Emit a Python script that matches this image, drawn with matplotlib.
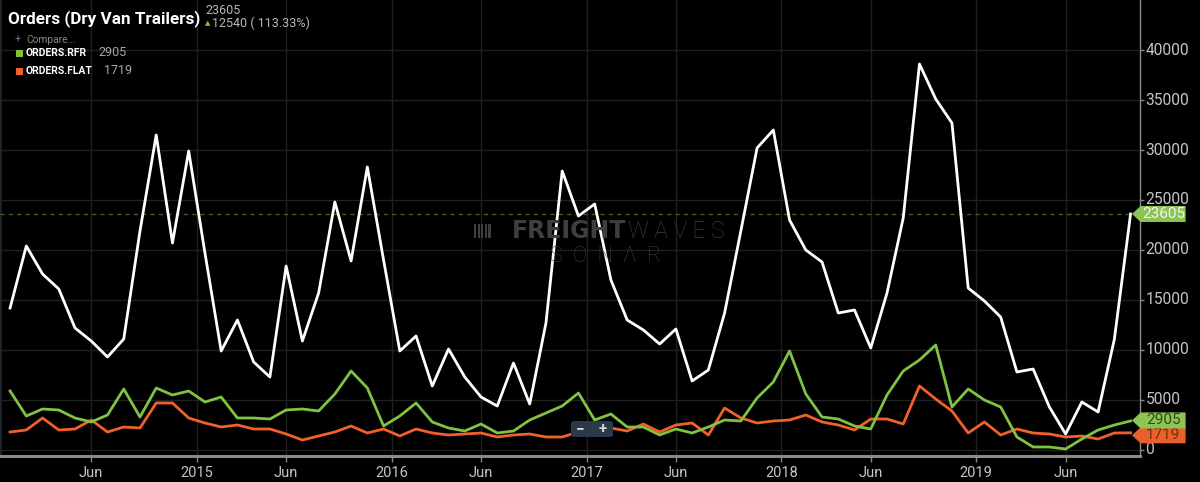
import numpy as np
import matplotlib
matplotlib.use("Agg")
import matplotlib.pyplot as plt
from matplotlib.patches import Polygon, FancyBboxPatch, Rectangle
from matplotlib.transforms import blended_transform_factory

plt.rcParams["font.family"] = ["Roboto", "DejaVu Sans"]

# ── data: monthly, Jan 2014 .. Oct 2019 ─────────────────────────────────────
START_YEAR = 2014
DRY_VAN = [14200, 20400, 17600, 16100, 12200, 10900, 9300, 11100, 21900, 31500,
           20700, 29900, 19700, 9900, 13000, 8800, 7300, 18400, 10900, 15700,
           24800, 18900, 28300, 19000, 9900, 11400, 6400, 10100, 7300, 5300,
           4400, 8700, 4600, 12700, 27900, 23400, 24600, 17000, 13000, 12000,
           10600, 12100, 6900, 8000, 13700, 21900, 30200, 32000, 23000, 20000,
           18800, 13700, 14000, 10200, 15700, 23200, 38600, 35100, 32700, 16200,
           14900, 13300, 7800, 8100, 4300, 1600, 4800, 3800, 11065, 23605]
RFR = [5900, 3400, 4100, 4000, 3200, 2800, 3500, 6100, 3300, 6200,
       5500, 5900, 4800, 5300, 3200, 3200, 3100, 4000, 4100, 3900,
       5600, 7900, 6200, 2400, 3400, 4700, 2800, 2200, 1900, 2600,
       1700, 1900, 3000, 3700, 4400, 5700, 3000, 3600, 2300, 2300,
       1500, 2100, 1700, 2300, 3000, 2900, 5200, 6800, 9900, 5600,
       3300, 3100, 2400, 2100, 5500, 7900, 9000, 10500, 4300, 6100,
       5000, 4300, 1300, 300, 300, 100, 1100, 2000, 2500, 2905]
FLAT = [1800, 2000, 3200, 2000, 2100, 3000, 1800, 2300, 2200, 4700,
        4700, 3200, 2700, 2300, 2500, 2100, 2100, 1600, 1000, 1400,
        1800, 2400, 1700, 2100, 1400, 2100, 1700, 1500, 1600, 1700,
        1300, 1500, 1600, 1300, 1300, 1800, 2300, 2200, 1900, 2600,
        1800, 2500, 2700, 1500, 4200, 3200, 2700, 2900, 3000, 3500,
        2800, 2500, 2000, 3100, 3100, 2600, 6400, 5100, 3900, 1700,
        2800, 1500, 2100, 1700, 1600, 1300, 1400, 1100, 1700, 1719]
CHANGE = 12540
CHANGE_PCT = 113.33

Y_TICKS = list(range(0, 40001, 5000))
YEAR_LABELS = ["2015", "2016", "2017", "2018", "2019"]

# ── colours ─────────────────────────────────────────────────────────────────
BG = "#000000"
C_WHITE = "#ffffff"
C_GREEN = "#80c242"
C_ORANGE = "#f1602a"
C_TAG_GREEN = "#8cc455"
C_TAG_ORANGE = "#e8612c"
C_GRID = "#202020"
C_TXT = "#c4c4c4"
C_WM = "#3e3e3e"

months = np.arange(len(DRY_VAN))

fig = plt.figure(figsize=(12, 4.82), dpi=100, facecolor=BG)
ax = fig.add_axes([0.0, 1 - 456 / 482, 1140 / 1200, 456 / 482], facecolor=BG)

ax.plot(months, FLAT, color=C_ORANGE, lw=2.0, zorder=4)
ax.plot(months, RFR, color=C_GREEN, lw=2.0, zorder=5)
ax.plot(months, DRY_VAN, color=C_WHITE, lw=2.0, zorder=6)

ax.axhline(DRY_VAN[-1], color="#3f5e22", lw=1.0, ls=(0, (3, 3)), zorder=3)

ax.set_xlim(-0.62, 69.58)
ax.set_ylim(-600, 45000)

# x ticks: year starts between Dec and Jan, "Jun" at the June point
n_years = len(YEAR_LABELS) + 1
xt, xl = [], []
for k in range(n_years):
    xt.append(12 * k + 5)
    xl.append("Jun")
    if k < len(YEAR_LABELS):
        xt.append(12 * k + 11.5)
        xl.append(YEAR_LABELS[k])
ax.set_xticks(xt)
ax.set_xticklabels(xl)
ax.set_yticks(Y_TICKS)
ax.set_yticklabels([str(v) for v in Y_TICKS])
ax.yaxis.tick_right()

ax.tick_params(axis="x", colors="#888888", labelcolor=C_TXT, labelsize=10.5,
               length=4, width=1, pad=3)
ax.tick_params(axis="y", colors="#888888", labelcolor=C_TXT, labelsize=11.2,
               length=3, width=1, pad=1)
for lab in ax.get_yticklabels():
    lab.set_verticalalignment("center")

ax.grid(True, color=C_GRID, lw=1.0, zorder=0)
ax.set_axisbelow(True)
ax.spines["top"].set_visible(False)
ax.spines["left"].set_color("#1c2630")
ax.spines["left"].set_linewidth(2.0)
ax.spines["bottom"].set_color("#8a8a8a")
ax.spines["bottom"].set_linewidth(2.2)
ax.spines["right"].set_color("#8a8a8a")
ax.spines["right"].set_linewidth(1.0)

# ── value tags on the right ─────────────────────────────────────────────────
tr = blended_transform_factory(ax.transAxes, ax.transData)


def tag(v, face, txtcol, y_shift=0, z=10):
    yc = v + y_shift
    h = 800
    pts = [(0.993, yc), (1.0005, yc + h), (1.040, yc + h),
           (1.040, yc - h), (1.0005, yc - h)]
    ax.add_patch(Polygon(pts, closed=True, transform=tr, clip_on=False,
                         fc=face, ec="none", zorder=z))
    ax.text(1.0205, yc, str(v), transform=tr, ha="center", va="center",
            fontsize=11, color=txtcol, clip_on=False, zorder=z + 1)


tag(FLAT[-1], C_TAG_ORANGE, "#7a2a0e", y_shift=-250, z=10)
tag(RFR[-1], C_TAG_GREEN, "#2e4a17", y_shift=50, z=12)
tag(DRY_VAN[-1], C_TAG_GREEN, "#f4f4f4", z=12)

# ── zoom buttons ────────────────────────────────────────────────────────────
btn = FancyBboxPatch((571 / 1200, 1 - 437 / 482), 42 / 1200, 16 / 482,
                     boxstyle="round,pad=0,rounding_size=0.004",
                     transform=fig.transFigure, fc="#2a3a49", ec="none",
                     zorder=20)
fig.patches.append(btn)
fig.text(580 / 1200, 1 - 429 / 482, "\u2212", color="#d8d8d8", fontsize=11,
         ha="center", va="center", fontweight="bold", zorder=21)
fig.text(603 / 1200, 1 - 429 / 482, "+", color="#d8d8d8", fontsize=11,
         ha="center", va="center", fontweight="bold", zorder=21)

# ── watermark ───────────────────────────────────────────────────────────────
fig.text(626 / 1200, 1 - 231 / 482, "FREIGHT", color=C_WM, fontsize=17,
         fontweight="bold", ha="right", va="center", zorder=2,
         family=["DejaVu Sans"])
fig.text(628 / 1200, 1 - 231 / 482, "W A V E S", color=C_WM, fontsize=16.5,
         fontweight="light", ha="left", va="center", zorder=2)
fig.text(606 / 1200, 1 - 256 / 482, "S  O  N  \u039b  R", color=C_WM,
         fontsize=15.5, fontweight="light", ha="center", va="center", zorder=2)
for k in range(5):
    fig.patches.append(Rectangle(((474 + k * 3.6) / 1200, 1 - 238 / 482),
                                 2.2 / 1200, 14 / 482, transform=fig.transFigure,
                                 fc=C_WM, ec="none", zorder=2))

# ── header / legend ─────────────────────────────────────────────────────────
fig.text(8 / 1200, 1 - 19 / 482, "Orders (Dry Van Trailers)", color="white",
         fontsize=12.3, fontweight="bold", ha="left", va="center")
fig.text(205 / 1200, 1 - 11 / 482, str(DRY_VAN[-1]), color="#b8b8b8",
         fontsize=9, ha="left", va="center")
fig.text(205 / 1200, 1 - 23 / 482, "\u25b2", color=C_GREEN, fontsize=5,
         ha="left", va="center", family=["DejaVu Sans"])
fig.text(212 / 1200, 1 - 23 / 482, f"{CHANGE} ( {CHANGE_PCT:.2f}%)",
         color="#b8b8b8", fontsize=9, ha="left", va="center")
fig.text(15 / 1200, 1 - 40 / 482, "+", color="#5f7f9a", fontsize=8,
         ha="left", va="center")
fig.text(26 / 1200, 1 - 40 / 482, "Compare...", color="#8a8a8a", fontsize=7.3,
         ha="left", va="center")
legend_rows = [("ORDERS.RFR", RFR[-1], C_GREEN, 53, 98),
               ("ORDERS.FLAT", FLAT[-1], C_ORANGE, 71, 104)]
for name, val, col, yy, xv in legend_rows:
    fig.patches.append(Rectangle((16 / 1200, 1 - (yy + 3.5) / 482), 7 / 1200,
                                 7 / 482, transform=fig.transFigure, fc=col,
                                 ec="none"))
    fig.text(26 / 1200, 1 - yy / 482, name, color="white", fontsize=7.5,
             fontweight="bold", ha="left", va="center")
    fig.text(xv / 1200, 1 - yy / 482, str(val), color="#a8a8a8", fontsize=9,
             ha="left", va="center")

fig.savefig("out.png", dpi=100, facecolor=BG)
